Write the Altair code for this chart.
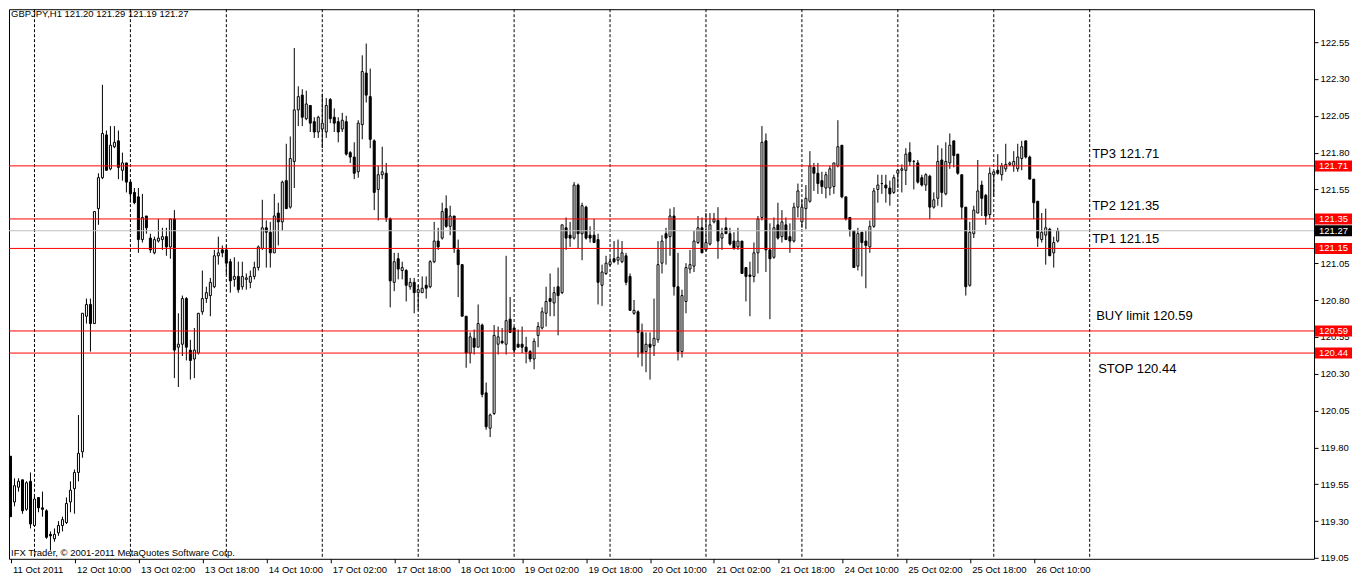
import altair as alt
import pandas as pd

# ---------------- data (GBPJPY H1) ----------------
opens = [
    119.74, 119.43, 119.53, 119.58, 119.38, 119.57, 119.27, 119.46, 119.39, 119.37,
    119.21, 119.18, 119.22, 119.27, 119.29, 119.43, 119.52, 119.63, 119.77, 120.69,
    120.77, 120.64, 121.42, 121.63, 121.92, 121.69, 121.84, 121.88, 121.68, 121.73,
    121.60, 121.53, 121.50, 121.21, 121.37, 121.22, 121.12, 121.20, 121.21, 121.23,
    121.16, 121.35, 120.48, 120.50, 120.81, 120.46, 120.40, 120.44, 120.72, 120.81,
    120.83, 120.89, 121.10, 121.14, 121.14, 121.06, 120.94, 120.96, 120.89, 120.94,
    120.92, 120.96, 121.02, 121.15, 121.29, 121.26, 121.12, 121.39, 121.33, 121.61,
    121.43, 121.74, 122.09, 122.19, 122.03, 122.12, 122.01, 121.94, 121.96, 121.94,
    122.16, 122.04, 122.01, 121.96, 122.01, 121.80, 121.77, 121.67, 121.99, 122.34,
    122.18, 121.88, 121.55, 121.65, 121.66, 121.35, 120.92, 121.08, 121.00, 121.00,
    120.89, 120.92, 120.85, 120.85, 120.90, 120.89, 121.06, 121.20, 121.22, 121.42,
    121.30, 121.37, 121.14, 121.04, 120.69, 120.44, 120.54, 120.48, 120.63, 120.17,
    119.93, 120.03, 120.50, 120.52, 120.50, 120.67, 120.61, 120.50, 120.50, 120.48,
    120.45, 120.40, 120.56, 120.61, 120.71, 120.81, 120.78, 120.89, 120.85, 121.29,
    121.24, 121.22, 121.58, 121.25, 121.43, 121.24, 121.24, 121.21, 120.90, 120.98,
    121.04, 121.08, 121.07, 121.06, 121.10, 120.96, 120.71, 120.72, 120.58, 120.45,
    120.50, 120.49, 120.53, 121.05, 121.25, 121.23, 121.37, 120.89, 120.45, 120.79,
    121.01, 121.03, 121.19, 121.29, 121.14, 121.18, 121.33, 121.34, 121.22, 121.29,
    121.25, 121.20, 121.16, 121.20, 121.02, 120.97, 120.96, 121.12, 121.36, 121.88,
    121.14, 121.09, 121.31, 121.23, 121.31, 121.23, 121.20, 121.43, 121.33, 121.42,
    121.47, 121.70, 121.66, 121.61, 121.56, 121.56, 121.57, 121.71, 121.85, 121.50,
    121.36, 121.27, 121.03, 121.26, 121.20, 121.16, 121.30, 121.55, 121.59, 121.58,
    121.56, 121.53, 121.66, 121.68, 121.68, 121.80, 121.74, 121.73, 121.63, 121.58,
    121.64, 121.43, 121.49, 121.75, 121.52, 121.73, 121.88, 121.79, 121.65, 121.43,
    120.90, 121.25, 121.39, 121.58, 121.51, 121.38, 121.65, 121.68, 121.65, 121.69,
    121.72, 121.71, 121.69, 121.76, 121.88, 121.77, 121.62, 121.47, 121.21, 121.24,
    121.28, 121.12, 121.20,
]
highs = [
    119.74, 119.59, 119.59, 119.58, 119.57, 119.63, 119.48, 119.46, 119.50, 119.38,
    119.23, 119.25, 119.30, 119.33, 119.46, 119.57, 119.65, 120.02, 120.71, 120.81,
    120.81, 121.40, 121.66, 122.26, 121.95, 121.98, 121.98, 121.95, 121.80, 121.73,
    121.61, 121.56, 121.56, 121.52, 121.37, 121.25, 121.23, 121.35, 121.29, 121.29,
    121.35, 121.41, 120.71, 120.83, 120.82, 120.53, 120.61, 120.71, 121.00, 120.89,
    120.95, 121.14, 121.23, 121.17, 121.17, 121.08, 121.09, 121.06, 121.06, 120.98,
    121.00, 121.06, 121.17, 121.48, 121.34, 121.33, 121.52, 121.46, 121.61, 121.86,
    121.91, 122.51, 122.25, 122.23, 122.22, 122.12, 122.04, 122.05, 122.20, 122.17,
    122.17, 122.10, 122.04, 122.07, 122.05, 121.81, 121.87, 122.02, 122.46, 122.54,
    122.37, 121.89, 121.71, 121.84, 121.73, 121.36, 121.12, 121.12, 121.06, 121.01,
    120.95, 120.95, 120.90, 120.96, 120.96, 121.07, 121.33, 121.29, 121.46, 121.51,
    121.44, 121.37, 121.21, 121.04, 120.69, 120.58, 120.60, 120.77, 120.64, 120.24,
    120.03, 120.63, 120.62, 120.61, 121.10, 120.82, 120.62, 120.60, 120.62, 120.55,
    120.46, 120.54, 120.65, 120.75, 120.89, 120.98, 120.89, 121.02, 121.31, 121.36,
    121.33, 121.60, 121.59, 121.46, 121.44, 121.30, 121.35, 121.25, 121.04, 121.10,
    121.09, 121.20, 121.21, 121.20, 121.12, 120.98, 120.80, 120.73, 120.64, 120.58,
    120.58, 120.81, 121.20, 121.24, 121.29, 121.42, 121.43, 121.12, 120.87, 121.05,
    121.14, 121.27, 121.37, 121.36, 121.39, 121.39, 121.39, 121.43, 121.29, 121.36,
    121.29, 121.26, 121.29, 121.20, 121.02, 121.06, 121.19, 121.37, 121.98, 121.93,
    121.32, 121.36, 121.46, 121.41, 121.36, 121.32, 121.46, 121.59, 121.48, 121.58,
    121.81, 121.73, 121.73, 121.67, 121.67, 121.71, 121.73, 122.02, 121.85, 121.50,
    121.36, 121.27, 121.29, 121.26, 121.27, 121.34, 121.56, 121.65, 121.65, 121.65,
    121.61, 121.65, 121.69, 121.72, 121.83, 121.87, 121.75, 121.75, 121.65, 121.66,
    121.65, 121.53, 121.85, 121.83, 121.87, 121.93, 121.88, 121.79, 121.65, 121.43,
    121.33, 121.44, 121.75, 121.61, 121.52, 121.70, 121.67, 121.79, 121.73, 121.86,
    121.74, 121.81, 121.86, 121.88, 121.88, 121.78, 121.62, 121.47, 121.39, 121.42,
    121.29, 121.23, 121.29,
]
lows = [
    119.33, 119.40, 119.50, 119.35, 119.37, 119.25, 119.26, 119.36, 119.33, 119.18,
    119.10, 119.16, 119.20, 119.23, 119.28, 119.36, 119.35, 119.57, 119.73, 120.64,
    120.45, 120.64, 121.31, 121.62, 121.68, 121.68, 121.83, 121.62, 121.61, 121.53,
    121.46, 121.45, 121.12, 121.19, 121.25, 121.12, 121.11, 121.19, 121.14, 121.10,
    121.08, 120.27, 120.21, 120.42, 120.39, 120.26, 120.27, 120.43, 120.70, 120.78,
    120.69, 120.88, 121.04, 121.09, 120.97, 120.85, 120.89, 120.85, 120.87, 120.87,
    120.88, 120.94, 121.00, 121.14, 121.02, 121.02, 121.12, 121.17, 121.27, 121.42,
    121.42, 121.56, 121.98, 121.98, 122.02, 121.94, 121.90, 121.90, 121.83, 121.90,
    122.00, 121.94, 121.87, 121.94, 121.78, 121.73, 121.62, 121.63, 121.89, 122.14,
    121.83, 121.41, 121.34, 121.62, 121.33, 120.75, 120.86, 120.94, 120.94, 120.79,
    120.87, 120.71, 120.73, 120.85, 120.81, 120.88, 121.05, 121.14, 121.21, 121.29,
    121.24, 121.12, 120.82, 120.69, 120.34, 120.37, 120.43, 120.48, 120.14, 119.92,
    119.87, 120.02, 120.43, 120.50, 120.43, 120.58, 120.44, 120.48, 120.44, 120.37,
    120.38, 120.33, 120.48, 120.60, 120.62, 120.69, 120.69, 120.56, 120.84, 121.14,
    121.16, 121.21, 121.15, 121.07, 121.21, 121.19, 121.19, 120.77, 120.76, 120.97,
    121.03, 121.05, 121.04, 121.05, 120.90, 120.73, 120.70, 120.41, 120.35, 120.31,
    120.26, 120.42, 120.51, 120.98, 121.04, 121.10, 120.83, 120.39, 120.41, 120.71,
    120.98, 120.99, 121.18, 121.12, 121.13, 121.17, 121.32, 121.08, 121.14, 121.25,
    121.17, 121.14, 121.14, 120.98, 120.79, 120.69, 120.92, 120.98, 121.34, 120.99,
    120.67, 121.08, 121.21, 121.19, 121.21, 121.12, 121.19, 121.36, 121.29, 121.28,
    121.46, 121.54, 121.52, 121.52, 121.49, 121.51, 121.52, 121.70, 121.49, 121.34,
    121.23, 121.02, 121.00, 120.96, 120.88, 121.12, 121.29, 121.46, 121.52, 121.46,
    121.44, 121.52, 121.56, 121.53, 121.58, 121.71, 121.55, 121.59, 121.57, 121.54,
    121.35, 121.42, 121.44, 121.43, 121.51, 121.69, 121.70, 121.65, 121.35, 120.83,
    120.89, 121.22, 121.39, 121.37, 121.31, 121.35, 121.50, 121.65, 121.61, 121.67,
    121.71, 121.67, 121.67, 121.68, 121.76, 121.62, 121.35, 121.16, 121.19, 121.04,
    121.10, 121.02, 121.19,
]
closes = [
    119.33, 119.54, 119.57, 119.37, 119.56, 119.28, 119.45, 119.39, 119.38, 119.19,
    119.20, 119.21, 119.27, 119.31, 119.42, 119.51, 119.63, 119.76, 120.71, 120.77,
    120.64, 121.40, 121.63, 121.93, 121.68, 121.85, 121.87, 121.70, 121.73, 121.60,
    121.52, 121.46, 121.21, 121.36, 121.29, 121.14, 121.21, 121.22, 121.23, 121.16,
    121.35, 120.46, 120.50, 120.81, 120.48, 120.39, 120.46, 120.71, 120.81, 120.85,
    120.92, 121.10, 121.12, 121.12, 121.05, 120.93, 120.96, 120.87, 120.96, 120.95,
    120.96, 121.02, 121.16, 121.29, 121.26, 121.12, 121.37, 121.33, 121.60, 121.42,
    121.76, 122.09, 122.18, 122.04, 122.13, 122.00, 121.94, 122.04, 122.00, 122.12,
    122.03, 122.00, 121.94, 122.02, 121.79, 121.77, 121.66, 122.00, 122.35, 122.19,
    121.89, 121.53, 121.65, 121.67, 121.36, 120.93, 121.06, 121.01, 121.02, 120.90,
    120.92, 120.85, 120.87, 120.88, 120.88, 121.06, 121.20, 121.16, 121.40, 121.30,
    121.37, 121.15, 121.04, 120.69, 120.44, 120.55, 120.48, 120.64, 120.16, 119.94,
    120.02, 120.56, 120.55, 120.51, 120.66, 120.58, 120.46, 120.48, 120.48, 120.45,
    120.40, 120.52, 120.62, 120.72, 120.79, 120.79, 120.85, 120.83, 121.31, 121.22,
    121.22, 121.58, 121.25, 121.44, 121.22, 121.22, 121.19, 120.92, 120.99, 121.05,
    121.06, 121.06, 121.09, 121.12, 120.92, 120.73, 120.73, 120.58, 120.44, 120.50,
    120.48, 120.54, 121.04, 121.20, 121.22, 121.37, 120.89, 120.45, 120.83, 121.02,
    121.04, 121.20, 121.29, 121.12, 121.19, 121.31, 121.35, 121.20, 121.25, 121.25,
    121.18, 121.15, 121.20, 120.98, 120.96, 120.96, 121.12, 121.35, 121.87, 121.14,
    121.08, 121.29, 121.22, 121.33, 121.21, 121.20, 121.43, 121.54, 121.43, 121.49,
    121.71, 121.66, 121.59, 121.57, 121.65, 121.69, 121.73, 121.84, 121.50, 121.35,
    121.28, 121.02, 121.25, 121.19, 121.17, 121.30, 121.54, 121.58, 121.59, 121.56,
    121.52, 121.63, 121.68, 121.69, 121.79, 121.74, 121.74, 121.60, 121.58, 121.65,
    121.43, 121.48, 121.74, 121.53, 121.74, 121.85, 121.78, 121.66, 121.43, 120.89,
    121.26, 121.41, 121.54, 121.49, 121.37, 121.66, 121.67, 121.66, 121.71, 121.72,
    121.73, 121.74, 121.77, 121.84, 121.77, 121.62, 121.46, 121.22, 121.26, 121.29,
    121.10, 121.19, 121.27,
]

date_labels = [
    "11 Oct 2011", "12 Oct 10:00", "13 Oct 02:00", "13 Oct 18:00", "14 Oct 10:00",
    "17 Oct 02:00", "17 Oct 18:00", "18 Oct 10:00", "19 Oct 02:00", "19 Oct 18:00",
    "20 Oct 10:00", "21 Oct 02:00", "21 Oct 18:00", "24 Oct 10:00", "25 Oct 02:00",
    "25 Oct 18:00", "26 Oct 10:00",
]
label_bars = [0, 16, 32, 48, 64, 80, 96, 112, 128, 144, 160, 176, 192, 208, 224, 240, 256]
day_start_bars = [6, 30, 54, 78, 102, 126, 150, 174, 198, 222, 246, 270]
# 121.30 sits fully under the price tags in the reference, so it is not listed
price_ticks = [119.05, 119.30, 119.55, 119.80, 120.05, 120.30, 120.55, 120.80,
               121.05, 121.55, 121.80, 122.05, 122.30, 122.55]
levels = [121.71, 121.35, 121.15, 120.59, 120.44]
level_names = ["TP3 121.71", "TP2 121.35", "TP1 121.15", "BUY limit 120.59", "STOP 120.44"]
bid_price = 121.27
header_text = "GBPJPY,H1  121.20 121.29 121.19 121.27"
footer_text = "IFX Trader, \u00a9 2001-2011 MetaQuotes Software Corp."

# ---------------- chart ----------------
FONT = "Liberation Sans"
W, H = 1306, 550
PX = 147.5  # pixels per price unit
TOP = 122.773
bars = pd.DataFrame({"i": list(range(len(opens))), "o": opens, "h": highs, "l": lows, "c": closes})
seps = pd.DataFrame({"d": day_start_bars})
lv = pd.DataFrame({"p": levels, "t": [f"{v:.2f}" for v in levels]})
bid = pd.DataFrame({"p": [bid_price], "t": [f"{bid_price:.2f}"]})

xs = alt.Scale(domain=[-0.375, -0.375 + W / 4], nice=False, zero=False)
ys = alt.Scale(domain=[TOP - H / PX, TOP], nice=False, zero=False)

label_expr = "[" + ",".join(f"'{s}'" for s in date_labels) + "][floor(datum.value/16)]"

x_axis = alt.Axis(values=label_bars, labelExpr=label_expr, orient="bottom", tickSize=4,
                  labelAlign="left", labelOffset=2, labelPadding=2, labelFontSize=9.5,
                  labelFont=FONT, labelColor="black", tickColor="black", domain=False,
                  grid=False, labelOverlap=False, labelFlush=False, title=None)
y_axis = alt.Axis(values=price_ticks, format=".2f", orient="right", tickSize=4,
                  labelPadding=2, labelFontSize=9.5, labelFont=FONT, labelColor="black",
                  tickColor="black", domain=False, grid=False, labelOverlap=False,
                  labelFlush=False, title=None)


def X(field):
    return alt.X(field, scale=xs, axis=x_axis, title=None)


def Y(field):
    return alt.Y(field, scale=ys, axis=y_axis, title=None)


sep_layer = alt.Chart(seps).mark_rule(color="black", strokeWidth=1, strokeDash=[3, 2]).encode(
    x=X("d:Q"))

base = alt.Chart(bars)
wicks = base.mark_rule(color="black", strokeWidth=1).encode(
    x=X("i:Q"), y=Y("l:Q"), y2="h:Q")
bodies = base.transform_calculate(xl="datum.i - 0.25", xr="datum.i + 0.25").mark_rect(
    stroke="black", strokeWidth=1).encode(
    x=X("xl:Q"), x2="xr:Q", y=Y("o:Q"), y2="c:Q",
    fill=alt.condition("datum.c >= datum.o", alt.value("white"), alt.value("black")))

bid_line = alt.Chart(bid).mark_rule(color="#c0c0c0", strokeWidth=1).encode(y=Y("p:Q"))
level_lines = alt.Chart(lv).mark_rule(color="#ff0000", strokeWidth=1).encode(y=Y("p:Q"))

half_tag = 5.5 / PX
tag_calc = {"lo": f"datum.p - {half_tag}", "hi": f"datum.p + {half_tag}"}
lv_tags = alt.Chart(lv).transform_calculate(**tag_calc).mark_rect(color="#ff0000").encode(
    x=alt.value(W + 1), x2=alt.value(W + 38), y=Y("lo:Q"), y2="hi:Q")
bid_tag = alt.Chart(bid).transform_calculate(**tag_calc).mark_rect(color="black").encode(
    x=alt.value(W + 1), x2=alt.value(W + 38), y=Y("lo:Q"), y2="hi:Q")
tag_text = alt.Chart(pd.concat([lv, bid])).mark_text(
    color="white", font=FONT, fontSize=9.5, align="center", baseline="middle").encode(
    x=alt.value(W + 19.5), y=Y("p:Q"), text="t:N")

name_x = [1084, 1084, 1084, 1088, 1090]
name_dy = [-12, -13, -9, -15, 16]
name_layers = []
for p, t, nx, ndy in zip(levels, level_names, name_x, name_dy):
    name_layers.append(
        alt.Chart(pd.DataFrame({"p": [p], "t": [t]})).mark_text(
            color="black", font=FONT, fontSize=13, align="left", baseline="middle", dy=ndy
        ).encode(x=alt.value(nx), y=Y("p:Q"), text="t:N"))

header = alt.Chart(pd.DataFrame({"t": [header_text]})).mark_text(
    color="black", font=FONT, fontSize=9.5, align="left", baseline="middle").encode(
    x=alt.value(2), y=alt.value(4.5), text="t:N")
footer = alt.Chart(pd.DataFrame({"t": [footer_text]})).mark_text(
    color="black", font=FONT, fontSize=9.5, align="left", baseline="middle").encode(
    x=alt.value(2), y=alt.value(H - 6), text="t:N")

chart = alt.layer(
    sep_layer, wicks, bodies, bid_line, level_lines, lv_tags, bid_tag, tag_text,
    *name_layers, header, footer
).properties(
    width=W, height=H, padding={"left": 0, "top": 0, "right": 0, "bottom": 0},
    background="white"
).configure_view(stroke="black", strokeWidth=1, fill="white")

chart.save("out.html", embed_options={"renderer": "svg", "actions": False})
